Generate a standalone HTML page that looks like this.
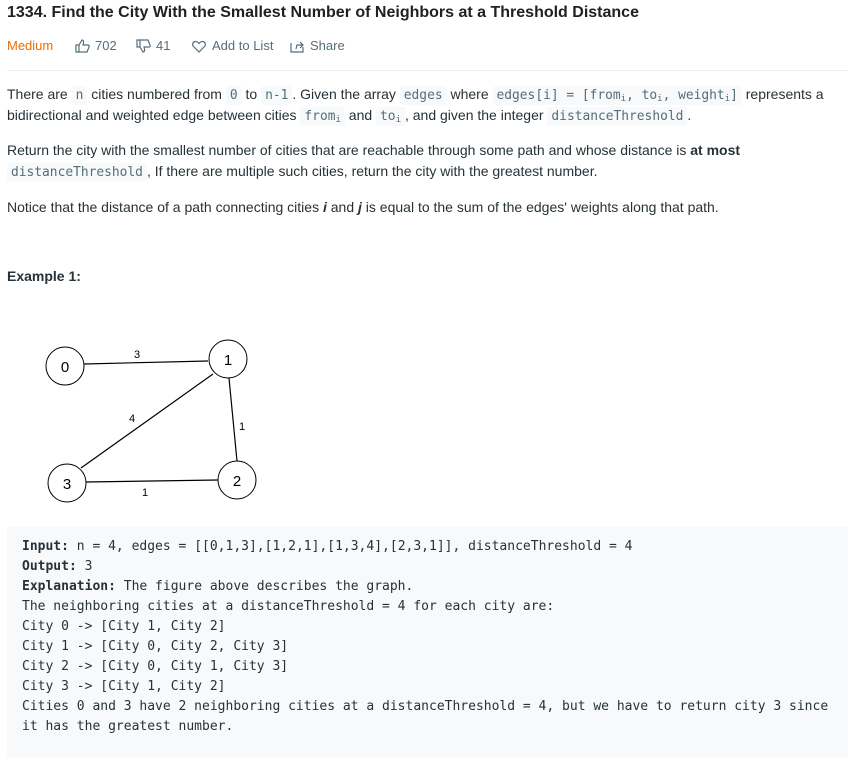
<!DOCTYPE html>
<html><head><meta charset="utf-8"><style>
body{margin:0;width:867px;height:740px;overflow:hidden;background:#fff;font-family:"Liberation Sans",sans-serif;color:#263238;font-size:14px;position:relative}
.a{position:absolute;white-space:nowrap}
code{font-family:"DejaVu Sans Mono","Liberation Mono",monospace;font-size:12.9px;color:#546e7a;background:#f7f9fa;padding:2px 4px;border-radius:3px}
sub{font-size:9px;vertical-align:-2px}
.l{line-height:21px;left:7px}
pre{position:absolute;left:7px;top:527px;width:841px;height:230px;margin:0;background:#f7f9fa;font-family:"DejaVu Sans Mono","Liberation Mono",monospace;font-size:13px;line-height:20px;color:#263238;padding:10px 0 0 15px;box-sizing:border-box}
.ic{font-size:13px;color:#546e7a}
</style></head><body>
<div class="a" style="left:7px;top:4px;font-size:16px;font-weight:bold;color:#212121">1334. Find the City With the Smallest Number of Neighbors at a Threshold Distance</div>
<div class="a" style="left:7px;top:38px;font-size:13px;color:#ef6c00">Medium</div>
<svg class="a" style="left:75px;top:38px" width="16" height="16" fill="none" stroke="#546e7a" stroke-width="1.2"><path d="M1 7h3v7H1zM4 7l3-5c1 0 2 1 1.5 3L8 7h5c1 0 1.5 1 1 2l-2 5H4"/></svg>
<div class="a ic" style="left:95px;top:38px">702</div>
<svg class="a" style="left:136px;top:39px" width="16" height="16" fill="none" stroke="#546e7a" stroke-width="1.2"><path d="M1 8h3V1H1zM4 8l3 5c1 0 2-1 1.5-3L8 8h5c1 0 1.5-1 1-2l-2-5H4"/></svg>
<div class="a ic" style="left:156px;top:38px">41</div>
<svg class="a" style="left:192px;top:40px" width="14" height="13" fill="none" stroke="#546e7a" stroke-width="1.2"><path d="M7 12L1.5 6.5C0 5 0.5 2 3 1.5 5 1 6 2.5 7 3.5 8 2.5 9 1 11 1.5 13.5 2 14 5 12.5 6.5z"/></svg>
<div class="a ic" style="left:212px;top:38px">Add to List</div>
<svg class="a" style="left:290px;top:40px" width="14" height="13" fill="none" stroke="#546e7a" stroke-width="1.2"><path d="M1 3v9h12V7M6 9l1-4h6M10 2l3 3-3 3"/></svg>
<div class="a ic" style="left:310px;top:38px">Share</div>
<div class="a" style="left:7px;top:70px;width:841px;height:1px;background:#eceff1"></div>
<div class="a l" style="top:84px">There are <code>n</code> cities numbered from <code>0</code> to <code>n-1</code>. Given the array <code>edges</code> where <code>edges[i] = [from<sub>i</sub>, to<sub>i</sub>, weight<sub>i</sub>]</code> represents a</div>
<div class="a l" style="top:105px">bidirectional and weighted edge between cities <code>from<sub>i</sub></code> and <code>to<sub>i</sub></code>, and given the integer <code>distanceThreshold</code>.</div>
<div class="a l" style="top:140px">Return the city with the smallest number of cities that are reachable through some path and whose distance is <b>at most</b></div>
<div class="a l" style="top:161px"><code>distanceThreshold</code>, If there are multiple such cities, return the city with the greatest number.</div>
<div class="a l" style="top:197px">Notice that the distance of a path connecting cities <b><i>i</i></b> and <b><i>j</i></b> is equal to the sum of the edges' weights along that path.</div>
<div class="a l" style="top:266px;font-weight:bold">Example 1:</div>
<svg class="a" style="left:0;top:0" width="300" height="520">
<g stroke="#000" stroke-width="1.2" fill="none">
<line x1="84" y1="364" x2="208" y2="361"/>
<line x1="213" y1="374" x2="81" y2="468"/>
<line x1="229" y1="378" x2="237" y2="461"/>
<line x1="86" y1="482" x2="218" y2="480"/>
</g>
<g stroke="#000" stroke-width="1" fill="#fff">
<circle cx="65" cy="366" r="19"/><circle cx="228" cy="359" r="19"/>
<circle cx="67" cy="483" r="19"/><circle cx="237" cy="480" r="19"/>
</g>
<g font-family="Liberation Sans,sans-serif" font-size="15" text-anchor="middle" fill="#000">
<text x="65" y="372">0</text><text x="228" y="365">1</text><text x="67" y="489">3</text><text x="237" y="486">2</text>
<text x="137" y="358" font-size="11">3</text><text x="132" y="422" font-size="11">4</text>
<text x="242" y="430" font-size="11">1</text><text x="145" y="496" font-size="11">1</text>
</g></svg>
<pre><b>Input:</b> n = 4, edges = [[0,1,3],[1,2,1],[1,3,4],[2,3,1]], distanceThreshold = 4
<b>Output:</b> 3
<b>Explanation:</b> The figure above describes the graph.
The neighboring cities at a distanceThreshold = 4 for each city are:
City 0 -&gt; [City 1, City 2]
City 1 -&gt; [City 0, City 2, City 3]
City 2 -&gt; [City 0, City 1, City 3]
City 3 -&gt; [City 1, City 2]
Cities 0 and 3 have 2 neighboring cities at a distanceThreshold = 4, but we have to return city 3 since
it has the greatest number.</pre>
</body></html>
